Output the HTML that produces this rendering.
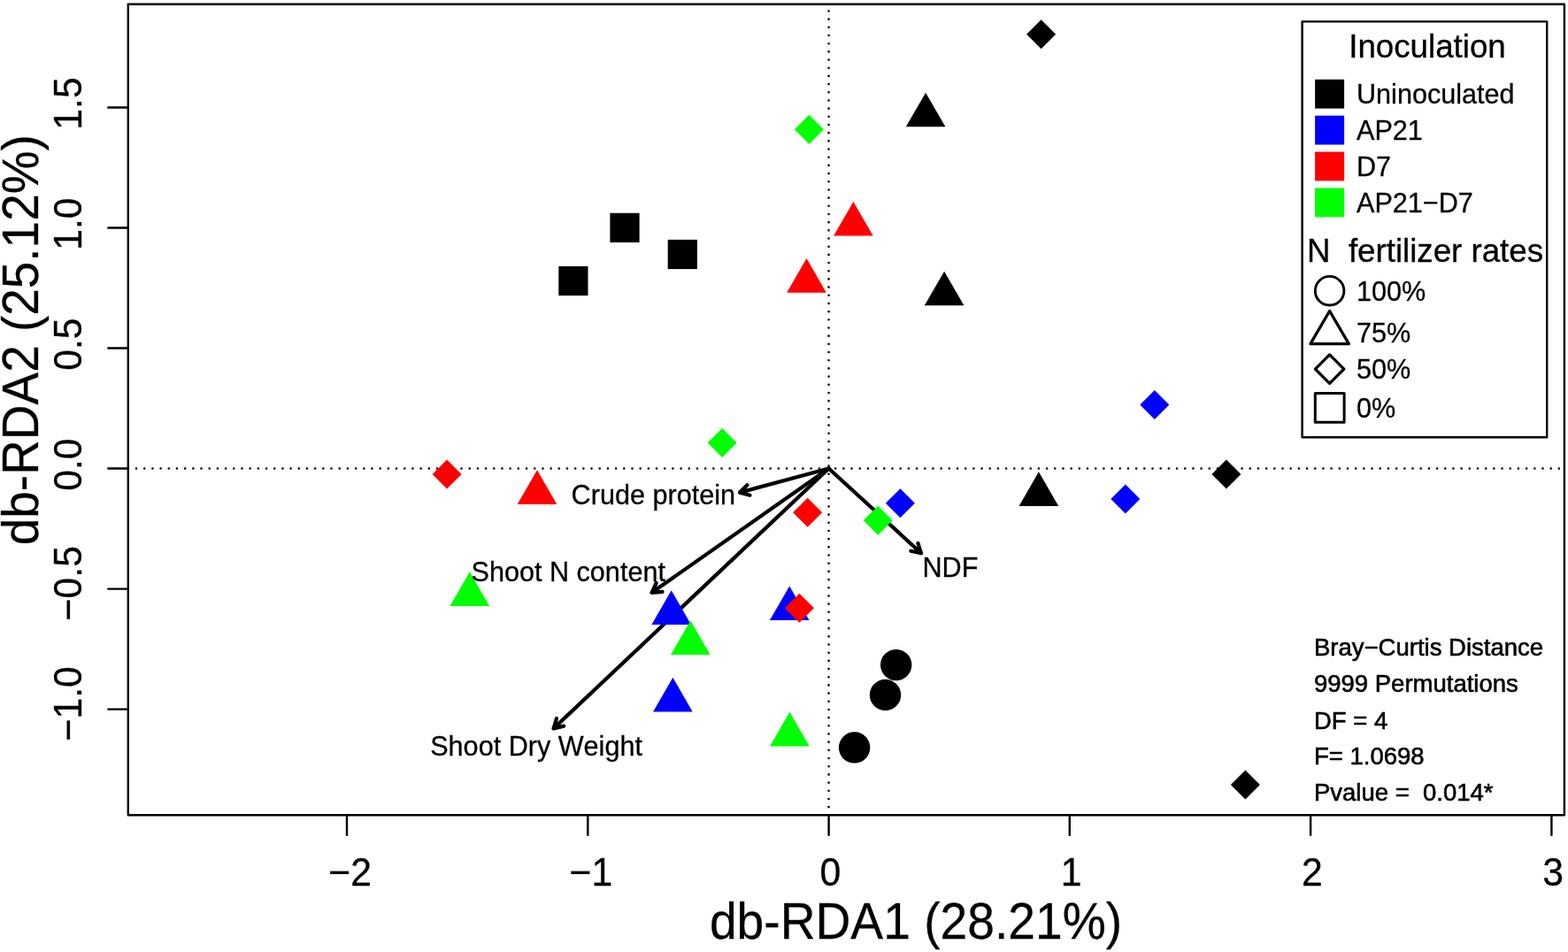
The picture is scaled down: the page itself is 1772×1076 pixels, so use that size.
<!DOCTYPE html>
<html lang="en"><head><meta charset="utf-8"><title>db-RDA ordination</title>
<style>html,body{margin:0;padding:0;background:#fff}svg{display:block}</style></head>
<body>
<svg width="1772" height="1076" viewBox="0 0 1772 1076" font-family="Liberation Sans, sans-serif">
<rect x="0" y="0" width="1772" height="1076" fill="#fff"/>
<g stroke="#000" stroke-width="2.6" stroke-linecap="round" fill="none">
<line x1="144.85" y1="529.55" x2="1767.9" y2="529.55" stroke-dasharray="0.01 9.1776"/>
<line x1="936.56" y1="921.3" x2="936.56" y2="4.75" stroke-dasharray="0.01 9.17"/>
</g>
<path d="M936.6 529.5L836.0 556.6M844.4 548.2L836.0 556.6L847.5 559.7" stroke="#000" stroke-width="4.2" stroke-linecap="round" stroke-linejoin="round" fill="none"/>
<path d="M936.6 529.5L736.6 669.8M741.6 659.0L736.6 669.8L748.5 668.8" stroke="#000" stroke-width="4.2" stroke-linecap="round" stroke-linejoin="round" fill="none"/>
<path d="M936.6 529.5L625.6 823.4M629.0 812.0L625.6 823.4L637.2 820.6" stroke="#000" stroke-width="4.2" stroke-linecap="round" stroke-linejoin="round" fill="none"/>
<path d="M936.6 529.5L1041.0 625.3M1029.4 622.7L1041.0 625.3L1037.4 613.9" stroke="#000" stroke-width="4.2" stroke-linecap="round" stroke-linejoin="round" fill="none"/>
<path d="M1176.6 22.2L1193.1 38.7L1176.6 55.2L1160.1 38.7Z" fill="#000"/>
<path d="M1046.1 104.7L1068.4 143.3L1023.8 143.3Z" fill="#000"/>
<path d="M1067.1 306.7L1089.4 345.3L1044.8 345.3Z" fill="#000"/>
<path d="M1173.9 533.3L1196.2 571.9L1151.6 571.9Z" fill="#000"/>
<path d="M1385.9 519.5L1402.4 536.0L1385.9 552.5L1369.4 536.0Z" fill="#000"/>
<path d="M1407.4 870.6L1423.9 887.1L1407.4 903.6L1390.9 887.1Z" fill="#000"/>
<rect x="689.4" y="240.8" width="33.2" height="33.2" fill="#000"/>
<rect x="754.7" y="270.9" width="33.2" height="33.2" fill="#000"/>
<rect x="631.3" y="300.9" width="33.2" height="33.2" fill="#000"/>
<circle cx="1012.7" cy="751.6" r="17.7" fill="#000"/>
<circle cx="1000.5" cy="785.5" r="17.7" fill="#000"/>
<circle cx="965.6" cy="844.9" r="17.7" fill="#000"/>
<path d="M1304.8 441.1L1321.3 457.6L1304.8 474.1L1288.3 457.6Z" fill="#0000ff"/>
<path d="M1271.8 547.6L1288.3 564.1L1271.8 580.6L1255.3 564.1Z" fill="#0000ff"/>
<path d="M1017.4 552.3L1033.9 568.8L1017.4 585.3L1000.9 568.8Z" fill="#0000ff"/>
<path d="M758.7 667.3L781.0 705.9L736.4 705.9Z" fill="#0000ff"/>
<path d="M892.2 662.4L914.5 701.0L869.9 701.0Z" fill="#0000ff"/>
<path d="M760.4 765.8L782.7 804.4L738.1 804.4Z" fill="#0000ff"/>
<path d="M964.4 227.9L986.7 266.5L942.1 266.5Z" fill="#ff0000"/>
<path d="M911.5 292.1L933.8 330.7L889.2 330.7Z" fill="#ff0000"/>
<path d="M505.1 519.5L521.6 536.0L505.1 552.5L488.6 536.0Z" fill="#ff0000"/>
<path d="M607.0 531.3L629.3 569.9L584.7 569.9Z" fill="#ff0000"/>
<path d="M912.6 562.8L929.1 579.3L912.6 595.8L896.1 579.3Z" fill="#ff0000"/>
<path d="M903.4 670.8L919.9 687.3L903.4 703.8L886.9 687.3Z" fill="#ff0000"/>
<path d="M914.4 129.7L930.9 146.2L914.4 162.7L897.9 146.2Z" fill="#00ff00"/>
<path d="M816.1 484.0L832.6 500.5L816.1 517.0L799.6 500.5Z" fill="#00ff00"/>
<path d="M992.2 571.8L1008.7 588.3L992.2 604.8L975.7 588.3Z" fill="#00ff00"/>
<path d="M530.8 646.3L553.1 684.9L508.5 684.9Z" fill="#00ff00"/>
<path d="M780.3 701.5L802.6 740.1L758.0 740.1Z" fill="#00ff00"/>
<path d="M892.4 804.8L914.7 843.4L870.1 843.4Z" fill="#00ff00"/>
<rect x="144.8" y="4.75" width="1623.10" height="916.55" fill="none" stroke="#000" stroke-width="2.4" stroke-linejoin="round"/>
<g stroke="#000" stroke-width="2.4" stroke-linecap="round" fill="none">
<line x1="392.0" y1="921.3" x2="392.0" y2="943.6999999999999"/>
<line x1="664.3" y1="921.3" x2="664.3" y2="943.6999999999999"/>
<line x1="936.6" y1="921.3" x2="936.6" y2="943.6999999999999"/>
<line x1="1208.8" y1="921.3" x2="1208.8" y2="943.6999999999999"/>
<line x1="1481.1" y1="921.3" x2="1481.1" y2="943.6999999999999"/>
<line x1="1753.4" y1="921.3" x2="1753.4" y2="943.6999999999999"/>
<line x1="144.8" y1="801.6" x2="122.4" y2="801.6"/>
<line x1="144.8" y1="665.6" x2="122.4" y2="665.6"/>
<line x1="144.8" y1="529.5" x2="122.4" y2="529.5"/>
<line x1="144.8" y1="393.5" x2="122.4" y2="393.5"/>
<line x1="144.8" y1="257.5" x2="122.4" y2="257.5"/>
<line x1="144.8" y1="121.5" x2="122.4" y2="121.5"/>
</g>
<g fill="#000" stroke="#000" style="font-kerning:none">
<text transform="translate(395.65 1000.60) scale(1 1.04)" font-size="42.7" text-anchor="middle" stroke-width="0.3" xml:space="preserve" style="white-space:pre">−2</text>
<text transform="translate(667.93 1000.60) scale(1 1.04)" font-size="42.7" text-anchor="middle" stroke-width="0.3" xml:space="preserve" style="white-space:pre">−1</text>
<text transform="translate(938.34 1000.60) scale(1 1.04)" font-size="42.7" text-anchor="middle" stroke-width="0.3" xml:space="preserve" style="white-space:pre">0</text>
<text transform="translate(1210.62 1000.60) scale(1 1.04)" font-size="42.7" text-anchor="middle" stroke-width="0.3" xml:space="preserve" style="white-space:pre">1</text>
<text transform="translate(1482.90 1000.60) scale(1 1.04)" font-size="42.7" text-anchor="middle" stroke-width="0.3" xml:space="preserve" style="white-space:pre">2</text>
<text transform="translate(1755.18 1000.60) scale(1 1.04)" font-size="42.7" text-anchor="middle" stroke-width="0.3" xml:space="preserve" style="white-space:pre">3</text>
<text transform="translate(92.20 795.27) rotate(-90) scale(1 1.04)" font-size="42.7" text-anchor="middle" stroke-width="0.3" xml:space="preserve" style="white-space:pre">−1.0</text>
<text transform="translate(92.20 659.25) rotate(-90) scale(1 1.04)" font-size="42.7" text-anchor="middle" stroke-width="0.3" xml:space="preserve" style="white-space:pre">−0.5</text>
<text transform="translate(92.20 525.10) rotate(-90) scale(1 1.04)" font-size="42.7" text-anchor="middle" stroke-width="0.3" xml:space="preserve" style="white-space:pre">0.0</text>
<text transform="translate(92.20 389.08) rotate(-90) scale(1 1.04)" font-size="42.7" text-anchor="middle" stroke-width="0.3" xml:space="preserve" style="white-space:pre">0.5</text>
<text transform="translate(92.20 253.06) rotate(-90) scale(1 1.04)" font-size="42.7" text-anchor="middle" stroke-width="0.3" xml:space="preserve" style="white-space:pre">1.0</text>
<text transform="translate(92.20 117.04) rotate(-90) scale(1 1.04)" font-size="42.7" text-anchor="middle" stroke-width="0.3" xml:space="preserve" style="white-space:pre">1.5</text>
<text transform="translate(1035.00 1061.20) scale(1 1.035)" font-size="55.2" text-anchor="middle" stroke-width="0.25" xml:space="preserve" style="white-space:pre">db-RDA1 (28.21%)</text>
<text transform="translate(43.10 384.20) rotate(-90) scale(1 1.035)" font-size="54.95" text-anchor="middle" stroke-width="0.25" xml:space="preserve" style="white-space:pre">db-RDA2 (25.12%)</text>
<text transform="translate(645.60 569.90) scale(1 1.01)" font-size="30.6" stroke-width="0.28" xml:space="preserve" style="white-space:pre">Crude protein</text>
<text transform="translate(532.50 657.30) scale(1 1.01)" font-size="30.6" stroke-width="0.28" xml:space="preserve" style="white-space:pre">Shoot N content</text>
<text transform="translate(486.20 854.20) scale(1 1.0)" font-size="30.6" stroke-width="0.28" xml:space="preserve" style="white-space:pre">Shoot Dry Weight</text>
<text transform="translate(1042.50 651.80) scale(1 1.04)" font-size="30.6" stroke-width="0.28" xml:space="preserve" style="white-space:pre">NDF</text>
</g>
<rect x="1471.6" y="24.4" width="276.6" height="469.8" fill="#fff" stroke="#000" stroke-width="2.4" stroke-linejoin="round"/>
<rect x="1486.1" y="89.8" width="33" height="32.8" fill="#000"/>
<rect x="1486.1" y="130.7" width="33" height="32.8" fill="#0000ff"/>
<rect x="1486.1" y="171.6" width="33" height="32.8" fill="#ff0000"/>
<rect x="1486.1" y="212.5" width="33" height="32.8" fill="#00ff00"/>
<g fill="none" stroke="#000" stroke-linejoin="round">
<circle cx="1502.6" cy="328.7" r="16.3" stroke-width="2.9"/>
<path d="M1502.6 351.5L1524.3 388.6L1480.9 388.6Z" stroke-width="3.3"/>
<path d="M1502.6 400.9L1518.8 417.1L1502.6 433.3L1486.4 417.1Z" stroke-width="3.3"/>
<rect x="1486.3" y="444.4" width="32.8" height="32.8" stroke-width="3.0"/>
</g>
<g fill="#000" stroke="#000" style="font-kerning:none">
<text transform="translate(1613.00 64.60) scale(1 1.0)" font-size="36.7" text-anchor="middle" stroke-width="0.33" xml:space="preserve" style="white-space:pre">Inoculation</text>
<text transform="translate(1533.00 117.00) scale(1 1.01)" font-size="30.6" stroke-width="0.28" xml:space="preserve" style="white-space:pre">Uninoculated</text>
<text transform="translate(1533.00 157.90) scale(1 1.04)" font-size="30.6" stroke-width="0.28" xml:space="preserve" style="white-space:pre">AP21</text>
<text transform="translate(1533.00 198.80) scale(1 1.04)" font-size="30.6" stroke-width="0.28" xml:space="preserve" style="white-space:pre">D7</text>
<text transform="translate(1533.00 239.70) scale(1 1.04)" font-size="30.6" stroke-width="0.28" xml:space="preserve" style="white-space:pre">AP21−D7</text>
<text transform="translate(1477.00 296.40) scale(1 1.0)" font-size="36.7" stroke-width="0.33" xml:space="preserve" style="white-space:pre">N  fertilizer rates</text>
<text transform="translate(1533.00 340.20) scale(1 1.04)" font-size="30.6" stroke-width="0.28" xml:space="preserve" style="white-space:pre">100%</text>
<text transform="translate(1533.00 387.10) scale(1 1.04)" font-size="30.6" stroke-width="0.28" xml:space="preserve" style="white-space:pre">75%</text>
<text transform="translate(1533.00 427.60) scale(1 1.04)" font-size="30.6" stroke-width="0.28" xml:space="preserve" style="white-space:pre">50%</text>
<text transform="translate(1533.00 471.90) scale(1 1.04)" font-size="30.6" stroke-width="0.28" xml:space="preserve" style="white-space:pre">0%</text>
<text transform="translate(1485.00 741.40) scale(1 1.0)" font-size="27.5" stroke-width="0.6" xml:space="preserve" style="white-space:pre">Bray−Curtis Distance</text>
<text transform="translate(1485.00 782.40) scale(1 1.01)" font-size="27.5" stroke-width="0.6" xml:space="preserve" style="white-space:pre">9999 Permutations</text>
<text transform="translate(1485.00 823.50) scale(1 1.035)" font-size="27.5" stroke-width="0.6" xml:space="preserve" style="white-space:pre">DF = 4</text>
<text transform="translate(1485.00 863.90) scale(1 1.035)" font-size="27.5" stroke-width="0.6" xml:space="preserve" style="white-space:pre">F= 1.0698</text>
<text transform="translate(1485.00 904.90) scale(1 1.01)" font-size="27.5" stroke-width="0.6" xml:space="preserve" style="white-space:pre">Pvalue =  0.014*</text>
</g>
</svg>
</body></html>
